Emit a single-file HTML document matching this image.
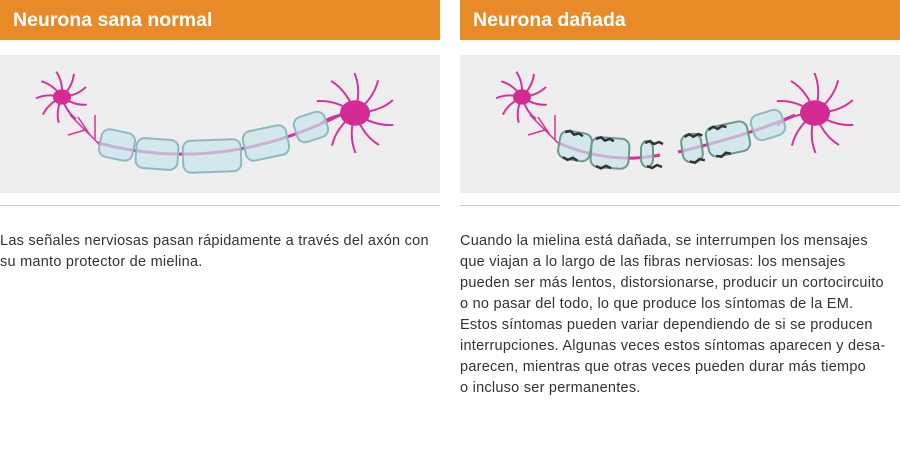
<!DOCTYPE html>
<html><head><meta charset="utf-8">
<style>
body{margin:0;width:900px;height:457px;background:#fff;font-family:"Liberation Sans",sans-serif;overflow:hidden;position:relative}
.col{position:absolute;top:0;width:440px}
.hdr{height:40px;background:#e88a27;color:#fff;font-weight:bold;font-size:19.5px;line-height:40px;padding-left:13px;box-sizing:border-box}
.ill{position:absolute;top:55px;left:0;width:440px;height:138px;background:#eeeeee}
.rule{position:absolute;top:205px;left:0;width:440px;height:1px;background:#c8c8c8}
.txt{position:absolute;top:231px;left:0;font-size:14.5px;letter-spacing:0.25px;line-height:21px;color:#333;white-space:nowrap}
</style></head><body>
<div class="col" style="left:0">
 <div class="hdr">Neurona sana normal</div>
 <div class="ill">
  <svg width="440" height="138" id="s1"></svg>
 </div>
 <div class="rule"></div>
 <div class="txt">Las señales nerviosas pasan rápidamente a través del axón con<br>su manto protector de mielina.</div>
</div>
<div class="col" style="left:460px">
 <div class="hdr">Neurona dañada</div>
 <div class="ill">
  <svg width="440" height="138" id="s2"></svg>
 </div>
 <div class="rule"></div>
 <div class="txt">Cuando la mielina está dañada, se interrumpen los mensajes<br>que viajan a lo largo de las fibras nerviosas: los mensajes<br>pueden ser más lentos, distorsionarse, producir un cortocircuito<br>o no pasar del todo, lo que produce los síntomas de la EM.<br>Estos síntomas pueden variar dependiendo de si se producen<br>interrupciones. Algunas veces estos síntomas aparecen y desa-<br>parecen, mientras que otras veces pueden durar más tiempo<br>o incluso ser permanentes.</div>
</div>
<script>
const NS='http://www.w3.org/2000/svg';
function mk(svg,tag,attrs){const e=document.createElementNS(NS,tag);for(const k in attrs)e.setAttribute(k,attrs[k]);svg.appendChild(e);return e;}
function neuron(svg,cx,cy,r,len,n){
  for(let i=0;i<n;i++){
    const a=i/n*Math.PI*2+0.3;
    const x2=cx+Math.cos(a)*len, y2=cy+Math.sin(a)*len;
    const p=mk(svg,'path',{d:`M${cx} ${cy} Q${cx+Math.cos(a+0.3)*len*0.6} ${cy+Math.sin(a+0.3)*len*0.6} ${x2} ${y2}`,stroke:'#d6339a','stroke-width':2,fill:'none'});
    
    
  }
  const c=mk(svg,'ellipse',{cx:cx,cy:cy,rx:r,ry:r*0.85,fill:'#d42a93'});
  
  
}
function seg(svg,x,y,w,h,ang,damaged){
  const g=mk(svg,'g',{transform:`translate(${x},${y}) rotate(${ang})`});
  
  
  const r=document.createElementNS(NS,'rect');
  const at={x:-w/2,y:-h/2,width:w,height:h,rx:8,fill:'rgba(200,230,235,0.7)',stroke:damaged?'#6a9a8a':'#8fb9c2','stroke-width':2};
  for(const k in at)r.setAttribute(k,at[k]);g.appendChild(r);
  if(damaged){const d=document.createElementNS(NS,'path');d.setAttribute('d',`M${-w/2+4} ${-h/2+2} l5 -2 l4 3 l5 -2 l4 2 M${-w/2+6} ${h/2-1} l5 2 l5 -3 l5 2`);d.setAttribute('stroke','#333');d.setAttribute('stroke-width',2.5);d.setAttribute('fill','none');g.appendChild(d);}
}
function axon(svg,d){const p=mk(svg,'path',{d:d,stroke:'#d6339a','stroke-width':3,fill:'none'});}
const s1=document.getElementById('s1');
neuron(s1,62,42,9,26,9);
mk(s1,'path',{d:'M98 88 Q85 75 70 60 M85 75 L68 80 M90 80 L78 62 M95 84 L95 60',stroke:'#d6339a','stroke-width':1.5,fill:'none'});
axon(s1,'M98 88 Q220 120 340 60');
neuron(s1,355,58,15,40,10);
seg(s1,117,90,34,28,12,false);
seg(s1,157,99,42,30,4,false);
seg(s1,212,101,58,32,-2,false);
seg(s1,266,88,44,30,-12,false);
seg(s1,311,72,32,26,-18,false);
const s2=document.getElementById('s2');
neuron(s2,62,42,9,26,9);
mk(s2,'path',{d:'M98 88 Q85 75 70 60 M85 75 L68 80 M90 80 L78 62 M95 84 L95 60',stroke:'#d6339a','stroke-width':1.5,fill:'none'});
axon(s2,'M98 88 Q150 110 200 100');
axon(s2,'M218 97 Q290 80 335 60');
neuron(s2,355,58,15,40,10);
seg(s2,115,91,32,28,10,true);
seg(s2,150,98,38,30,4,true);
seg(s2,187,99,12,26,0,true);
seg(s2,232,93,20,28,-8,true);
seg(s2,268,84,42,30,-12,true);
seg(s2,308,70,32,26,-18,false);
</script>
</body></html>
